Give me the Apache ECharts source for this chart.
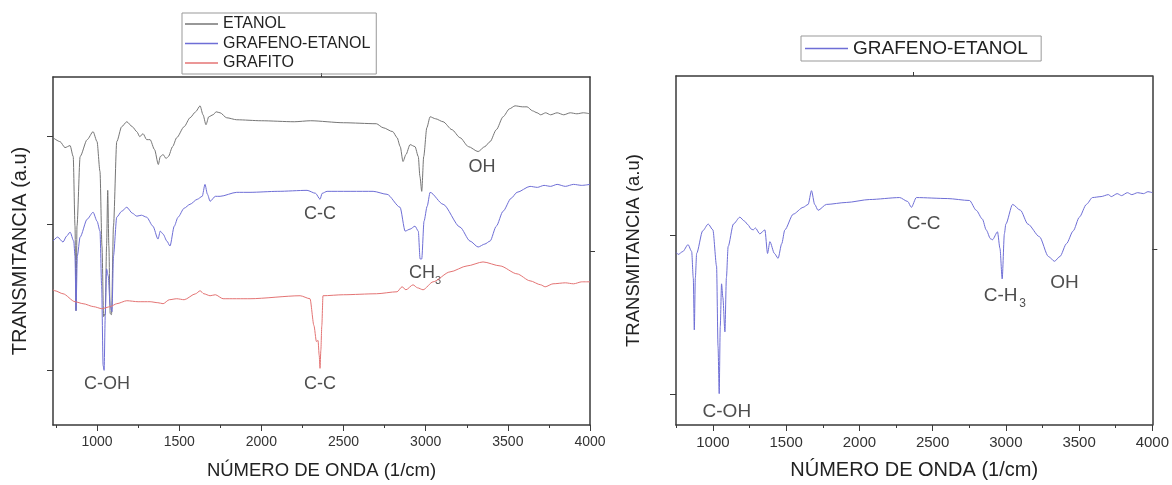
<!DOCTYPE html>
<html>
<head>
<meta charset="utf-8">
<script src="https://cdn.jsdelivr.net/npm/echarts@6/dist/echarts.min.js"></script>
<style>
  html, body { margin: 0; padding: 0; background: #fff; }
  #chart { width: 1172px; height: 485px; }
</style>
</head>
<body>
<div id="chart"></div>
<script>
// spectra: [wavenumber (1/cm), transmittance (a.u.)]
const etanol = [
    [732, 289], [775, 285], [805, 279], [836, 281], [855, 270], [866, 200], [872, 115], [878, 200],
    [897, 270], [940, 287], [976, 295], [1000, 285], [1018, 255], [1030, 180], [1040, 109], [1050, 112],
    [1058, 180], [1065, 236], [1072, 180], [1080, 112], [1088, 111], [1100, 200], [1120, 285], [1150, 300],
    [1181, 305], [1215, 300], [1242, 295], [1260, 290], [1280, 293], [1302, 287], [1323, 287], [1350, 277],
    [1373, 262], [1385, 270], [1402, 272], [1420, 268], [1434, 270], [1460, 280], [1485, 289], [1530, 300],
    [1566, 309], [1600, 315], [1627, 321], [1645, 312], [1663, 302], [1680, 310], [1706, 312], [1725, 315],
    [1749, 314], [1789, 309], [1850, 307], [2000, 306], [2200, 305], [2300, 306], [2500, 304], [2700, 303],
    [2741, 299], [2800, 295], [2826, 289], [2845, 280], [2862, 265], [2880, 272], [2905, 282], [2935, 280],
    [2955, 270], [2965, 250], [2976, 235], [2988, 270], [3007, 299], [3027, 310], [3060, 308], [3106, 305],
    [3160, 297], [3209, 289], [3260, 280], [3319, 275], [3360, 280], [3392, 285], [3430, 297], [3471, 310],
    [3510, 318], [3544, 321], [3590, 320], [3617, 320], [3650, 316], [3678, 314], [3700, 312], [3730, 314],
    [3760, 312], [3800, 314], [3840, 312], [3880, 314], [3920, 313], [3960, 314], [4000, 313]
];
const grafenoEtanol = [
    [732, 185], [760, 189], [793, 184], [815, 190], [836, 194], [858, 185], [866, 170], [872, 115],
    [880, 170], [897, 189], [940, 207], [976, 214], [1000, 205], [1018, 195], [1028, 140], [1037, 60],
    [1043, 55], [1050, 110], [1058, 157], [1068, 150], [1080, 120], [1091, 114], [1100, 170], [1120, 209],
    [1150, 215], [1181, 219], [1215, 213], [1242, 210], [1270, 211], [1302, 209], [1340, 200], [1371, 187],
    [1385, 195], [1402, 192], [1425, 185], [1444, 180], [1470, 200], [1493, 209], [1530, 218], [1566, 222],
    [1610, 227], [1640, 230], [1657, 242], [1672, 232], [1688, 225], [1720, 230], [1749, 230], [1850, 234],
    [1931, 234], [2100, 235], [2278, 236], [2330, 233], [2357, 227], [2370, 233], [2400, 235], [2680, 235],
    [2765, 232], [2844, 219], [2875, 195], [2905, 197], [2935, 200], [2955, 195], [2966, 167], [2976, 167],
    [2990, 205], [3009, 220], [3027, 234], [3106, 222], [3209, 199], [3270, 185], [3319, 179], [3360, 182],
    [3392, 185], [3430, 200], [3471, 215], [3520, 228], [3556, 234], [3635, 240], [3680, 239], [3720, 241],
    [3760, 240], [3800, 242], [3850, 240], [3900, 242], [3950, 241], [4000, 242]
];
const grafito = [
    [732, 136], [744, 135], [793, 132], [866, 124], [915, 122], [980, 119], [1029, 117], [1080, 119],
    [1120, 122], [1181, 125], [1250, 124], [1323, 124], [1370, 123], [1402, 122], [1440, 126], [1485, 127],
    [1530, 126], [1600, 132], [1627, 135], [1650, 132], [1688, 130], [1720, 131], [1767, 127], [1931, 127],
    [2236, 130], [2296, 127], [2320, 100], [2335, 84], [2345, 85], [2352, 70], [2357, 57], [2362, 75],
    [2368, 100], [2375, 130], [2500, 131], [2700, 132], [2826, 134], [2856, 139], [2880, 136], [2923, 141],
    [2950, 138], [2984, 136], [3045, 144], [3148, 154], [3252, 160], [3349, 164], [3453, 160], [3556, 152],
    [3635, 145], [3700, 141], [3727, 139], [3775, 142], [3850, 143], [3900, 142], [3950, 144], [4000, 144]
];
const grafenoEtanolSolo = [
    [750, 176], [763, 174], [795, 177], [830, 184], [855, 177], [866, 150], [873, 97], [880, 150],
    [889, 175], [930, 198], [968, 205], [1000, 199], [1025, 162], [1035, 80], [1043, 32], [1050, 100],
    [1059, 144], [1068, 130], [1082, 95], [1092, 150], [1104, 182], [1140, 205], [1184, 212], [1215, 208],
    [1241, 204], [1260, 200], [1275, 199], [1290, 201], [1320, 195], [1355, 199], [1373, 175], [1389, 187],
    [1420, 175], [1445, 170], [1470, 185], [1491, 199], [1548, 215], [1616, 222], [1650, 225], [1673, 239],
    [1695, 225], [1718, 219], [1775, 225], [1911, 227], [2070, 230], [2275, 232], [2330, 228], [2355, 222],
    [2389, 232], [2600, 231], [2752, 229], [2798, 219], [2840, 210], [2866, 199], [2895, 190], [2909, 189],
    [2943, 197], [2960, 180], [2975, 149], [2990, 195], [3000, 205], [3046, 225], [3100, 219], [3150, 205],
    [3230, 192], [3290, 172], [3332, 167], [3370, 172], [3414, 185], [3460, 198], [3502, 212], [3550, 225],
    [3591, 232], [3650, 233], [3700, 235], [3720, 233], [3760, 236], [3790, 234], [3830, 237], [3860, 235],
    [3900, 237], [3940, 236], [3970, 238], [4000, 237]
];

// band labels: [wavenumber, transmittance, text]; subscripts kept apart
const bandsLeft = [
    [1061, 41, 'C-OH'], [2357, 41, 'C-C'], [2357, 212, 'C-C'], [2978, 153, 'CH'], [3343, 259, 'OH']
];
const subsLeft = [[3075, 145, '3']];
const bandsRight = [
    [1095, 13, 'C-OH'], [2439, 205, 'C-C'], [2964, 132, 'C-H'], [3400, 145, 'OH']
];
const subsRight = [[3114, 124, '3']];

const xLabels = [1000, 1500, 2000, 2500, 3000, 3500, 4000];
const xMinor = [750, 1250, 1750, 2250, 2750, 3250, 3750];
const topTick = [2365];

const FONT = 'Liberation Sans';
const AXIS = '#3a3a3a';
const C_ETANOL = '#767676';
const C_GRAFENO = '#6e6ed6';
const C_GRAFITO = '#e47474';

function init() {
    const chart = echarts.init(document.getElementById('chart'));

    function xAxes(grid, min, labelSize, nameSize, nameGap) {
        return [
            {   // bottom, major ticks + labels
                type: 'value', gridIndex: grid, position: 'bottom', min: min, max: 4000,
                name: 'NÚMERO DE ONDA (1/cm)', nameLocation: 'middle', nameGap: nameGap,
                nameTextStyle: { fontFamily: FONT, fontSize: nameSize, color: '#222' },
                axisLine: { show: true, onZero: false, lineStyle: { color: AXIS, width: 1.5 } },
                axisTick: { show: true, inside: false, length: 6, customValues: xLabels, lineStyle: { color: AXIS } },
                axisLabel: {
                    customValues: xLabels, margin: 10, formatter: v => String(v),
                    fontFamily: FONT, fontSize: labelSize, color: '#333'
                },
                splitLine: { show: false }
            },
            {   // bottom, minor ticks
                type: 'value', gridIndex: grid, position: 'bottom', min: min, max: 4000,
                axisLine: { show: false, onZero: false },
                axisTick: { show: true, length: 3, customValues: xMinor, lineStyle: { color: AXIS } },
                axisLabel: { show: false }, splitLine: { show: false }
            },
            {   // top frame
                type: 'value', gridIndex: grid, position: 'top', min: min, max: 4000,
                axisLine: { show: true, onZero: false, lineStyle: { color: AXIS, width: 1.5 } },
                axisTick: { show: true, length: 4, customValues: topTick, lineStyle: { color: AXIS } },
                axisLabel: { show: false }, splitLine: { show: false }
            }
        ];
    }

    function yAxes(grid, max, nameSize, nameGap, leftTicks, rightTicks) {
        return [
            {
                type: 'value', gridIndex: grid, position: 'left', min: 0, max: max,
                name: 'TRANSMITANCIA (a.u)', nameLocation: 'middle', nameGap: nameGap,
                nameTextStyle: { fontFamily: FONT, fontSize: nameSize, color: '#222' },
                axisLine: { show: true, onZero: false, lineStyle: { color: AXIS, width: 1.5 } },
                axisTick: { show: true, length: 6, customValues: leftTicks, lineStyle: { color: AXIS } },
                axisLabel: { show: false }, splitLine: { show: false }
            },
            {
                type: 'value', gridIndex: grid, position: 'right', min: 0, max: max,
                axisLine: { show: true, onZero: false, lineStyle: { color: AXIS, width: 1.5 } },
                axisTick: { show: true, length: 5, customValues: rightTicks, lineStyle: { color: AXIS } },
                axisLabel: { show: false }, splitLine: { show: false }
            }
        ];
    }

    function spectrum(name, data, color, xi, yi) {
        return {
            name: name, type: 'line', data: data, xAxisIndex: xi, yAxisIndex: yi,
            symbol: 'none', smooth: 0.25, smoothMonotone: 'x', animation: false,
            lineStyle: { color: color, width: 1 }, itemStyle: { color: color }
        };
    }

    function bands(data, size, xi, yi) {
        return {
            type: 'scatter', data: data, xAxisIndex: xi, yAxisIndex: yi,
            symbolSize: 0, silent: true, animation: false,
            label: {
                show: true, position: 'inside',
                formatter: p => p.data[2],
                fontFamily: FONT, fontSize: size, color: '#222'
            }
        };
    }

    const legendItem = (name, color) => ({ name: name, itemStyle: { color: color, borderWidth: 0 } });

    const option = {
        backgroundColor: '#fff',
        animation: false,
        grid: [
            { left: 53, top: 77, width: 537, height: 350 },
            { left: 676, top: 76, width: 477, height: 356 }
        ],
        legend: [
            {
                orient: 'vertical', left: 182, top: 13, icon: 'rect', itemWidth: 33, itemHeight: 1.5, itemGap: 3.5,
                padding: [3, 6, 3, 3], borderColor: '#999', borderWidth: 1,
                textStyle: { fontFamily: FONT, fontSize: 16, color: '#222', lineHeight: 16 },
                data: [
                    legendItem('ETANOL', C_ETANOL),
                    legendItem('GRAFENO-ETANOL', C_GRAFENO),
                    legendItem('GRAFITO', C_GRAFITO)
                ]
            },
            {
                left: 801, top: 36, icon: 'rect', itemWidth: 43, itemHeight: 1.5,
                padding: [3, 8, 3, 4], borderColor: '#999', borderWidth: 1,
                textStyle: { fontFamily: FONT, fontSize: 19, color: '#222', lineHeight: 19 },
                data: [legendItem('GRAFENO-ETANOL ', C_GRAFENO)]
            }
        ],
        xAxis: [].concat(xAxes(0, 732, 14, 18.5, 36), xAxes(1, 748, 15, 20, 35)),
        yAxis: [].concat(yAxes(0, 350, 20, 23, [55, 202, 290], [175]), yAxes(1, 356, 18.5, 33, [31, 194], [179])),
        series: [
            spectrum('ETANOL', etanol, C_ETANOL, 0, 0),
            spectrum('GRAFENO-ETANOL', grafenoEtanol, C_GRAFENO, 0, 0),
            spectrum('GRAFITO', grafito, C_GRAFITO, 0, 0),
            bands(bandsLeft, 18, 0, 0),
            bands(subsLeft, 11, 0, 0),
            spectrum('GRAFENO-ETANOL ', grafenoEtanolSolo, C_GRAFENO, 3, 2),
            bands(bandsRight, 19, 3, 2),
            bands(subsRight, 12, 3, 2)
        ]
    };
    chart.setOption(option);
}

init();
</script>
</body>
</html>
